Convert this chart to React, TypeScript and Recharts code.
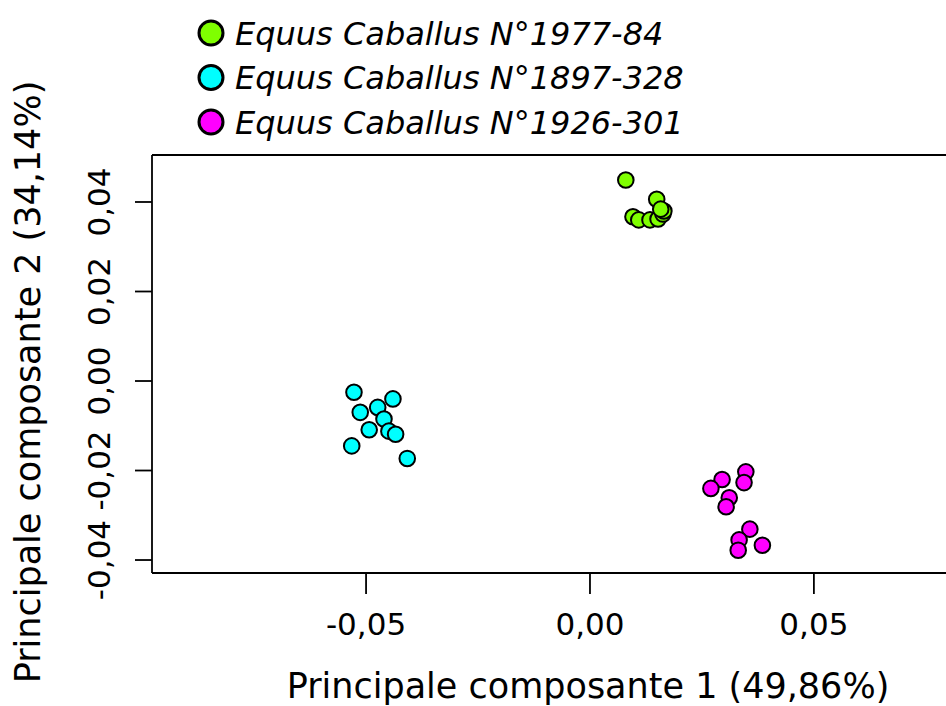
import React from 'react';
import { ScatterChart, Scatter, XAxis, YAxis, Legend, ReferenceLine } from 'recharts';

const seriesNames = ['Equus Caballus N°1977-84', 'Equus Caballus N°1897-328', 'Equus Caballus N°1926-301'];
const seriesColors = ['#7FFF00', '#00FFFF', '#FF00FF'];

const greenX = [0.0080, 0.0149, 0.0096, 0.0109, 0.0134, 0.0152, 0.0163, 0.0165, 0.0158];
const greenY = [0.0449, 0.0406, 0.0367, 0.0360, 0.0360, 0.0362, 0.0373, 0.0380, 0.0384];

const cyanX = [-0.0527, -0.0440, -0.0513, -0.0474, -0.0460, -0.0493, -0.0449, -0.0434, -0.0532, -0.0408];
const cyanY = [-0.0025, -0.0040, -0.0070, -0.0059, -0.0085, -0.0109, -0.0112, -0.0119, -0.0145, -0.0173];

const magentaX = [0.0348, 0.0295, 0.0344, 0.0270, 0.0311, 0.0304, 0.0357, 0.0333, 0.0385, 0.0331];
const magentaY = [-0.0203, -0.0220, -0.0227, -0.0240, -0.0261, -0.0281, -0.0331, -0.0355, -0.0367, -0.0378];

const xTicks = [-0.05, 0, 0.05];
const yTicks = [-0.04, -0.02, 0, 0.02, 0.04];
const xDomain = [-0.0978, 0.0795];
const yDomain = [-0.0429, 0.0505];

const xTitle = 'Principale composante 1 (49,86%)';
const yTitle = 'Principale composante 2 (34,14%)';

const FONT = '"DejaVu Sans", Verdana, sans-serif';

const toPts = (xs: number[], ys: number[]) => xs.map((x, i) => ({ x, y: ys[i] }));
const seriesData = [toPts(greenX, greenY), toPts(cyanX, cyanY), toPts(magentaX, magentaY)];

const fmt = (v: number) => v.toFixed(2).replace('.', ',');

const XTick = (props: any) => {
  const { x, y, payload } = props;
  return (
    <text x={x} y={y + 41} textAnchor="middle" fontFamily={FONT} fontSize={31} fill="#000">
      {fmt(payload.value)}
    </text>
  );
};

const YTick = (props: any) => {
  const { x, y, payload } = props;
  const bx = x - 25;
  return (
    <text x={bx} y={y} transform={`rotate(-90, ${bx}, ${y})`} textAnchor="middle" fontFamily={FONT} fontSize={31} fill="#000">
      {fmt(payload.value)}
    </text>
  );
};

const makeShape = (color: string) => (props: any) => (
  <circle cx={props.cx} cy={props.cy} r={7.8} fill={color} stroke="#000" strokeWidth={2} />
);

const LegendContent = () => (
  <svg width={946} height={150} style={{ display: 'block' }}>
    {seriesNames.map((name, i) => {
      const cy = 33 + i * 44.5;
      return (
        <g key={name}>
          <circle cx={211} cy={cy} r={12} fill={seriesColors[i]} stroke="#000" strokeWidth={3} />
          <text x={235} y={cy + 11.5} fontFamily={FONT} fontStyle="italic" fontSize={32} fill="#000">
            {name}
          </text>
        </g>
      );
    })}
  </svg>
);

export default function App() {
  return (
    <div style={{ position: 'absolute', left: 0, top: 0, width: 946, height: 706, background: '#fff' }}>
      <ScatterChart width={946} height={706} margin={{ top: 155, right: 0, bottom: 0, left: 0 }}>
        <XAxis
          type="number"
          dataKey="x"
          domain={xDomain}
          allowDataOverflow
          ticks={xTicks}
          height={133}
          tickSize={21}
          tickMargin={0}
          tick={<XTick />}
          axisLine={{ stroke: '#000', strokeWidth: 1.8 }}
          tickLine={{ stroke: '#000', strokeWidth: 1.8 }}
          label={{
            content: () => (
              <text x={588} y={698} textAnchor="middle" fontFamily={FONT} fontSize={35} fill="#000">
                {xTitle}
              </text>
            ),
          }}
        />
        <YAxis
          type="number"
          dataKey="y"
          domain={yDomain}
          allowDataOverflow
          ticks={yTicks}
          width={152}
          tickSize={17}
          tickMargin={0}
          tick={<YTick />}
          axisLine={{ stroke: '#000', strokeWidth: 1.8 }}
          tickLine={{ stroke: '#000', strokeWidth: 1.8 }}
          label={{
            content: () => (
              <text x={40} y={382} transform="rotate(-90, 40, 382)" textAnchor="middle" fontFamily={FONT} fontSize={35} fill="#000">
                {yTitle}
              </text>
            ),
          }}
        />
        <ReferenceLine y={yDomain[1]} stroke="#000" strokeWidth={1.8} />
        <Legend
          layout="horizontal"
          verticalAlign="middle"
          align="center"
          content={<LegendContent />}
          wrapperStyle={{ position: 'absolute', top: 0, left: 0, width: 946, height: 150 }}
        />
        {seriesData.map((d, i) => (
          <Scatter
            key={seriesNames[i]}
            name={seriesNames[i]}
            data={d}
            fill={seriesColors[i]}
            shape={makeShape(seriesColors[i])}
            isAnimationActive={false}
          />
        ))}
      </ScatterChart>
    </div>
  );
}
